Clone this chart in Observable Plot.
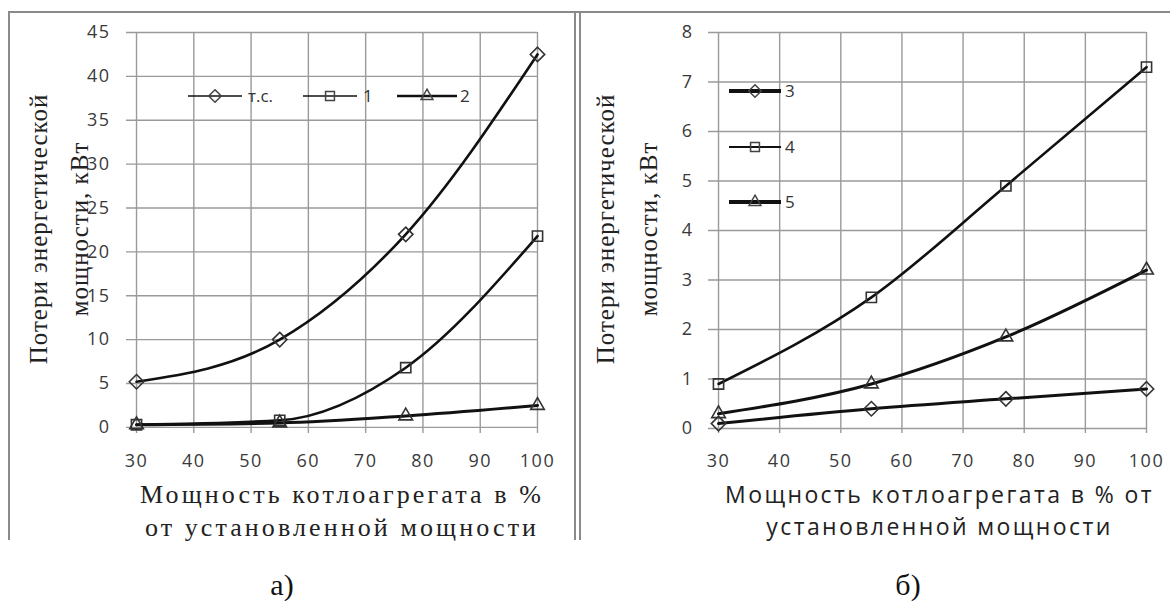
<!DOCTYPE html>
<html><head><meta charset="utf-8">
<script src="https://cdn.jsdelivr.net/npm/d3@7"></script>
<script src="https://cdn.jsdelivr.net/npm/@observablehq/plot@0.6"></script>
<style>
body{margin:0;background:#fff;}
#wrap{position:relative;width:1170px;height:602px;overflow:hidden;background:#fff;}
.panel{position:absolute;top:0;}
.frame{position:absolute;background:#8a8a8a;}
.cap{position:absolute;font-family:"Liberation Serif",serif;font-size:30px;color:#111;transform:translate(-50%,-50%);line-height:1;}
#legend{position:absolute;left:0;top:0;}
</style></head><body><div id="wrap"></div>
<script>
// ---- data ----
const loadPct = [30, 55, 77, 100];
const seriesA = ["т.с.", "1", "2"];
const tsA = [5.2, 10, 22, 42.5];
const s1A = [0.3, 0.8, 6.8, 21.8];
const s2A = [0.3, 0.5, 1.3, 2.5];
const seriesB = ["3", "4", "5"];
const s3B = [0.1, 0.4, 0.6, 0.8];
const s4B = [0.9, 2.65, 4.9, 7.3];
const s5B = [0.3, 0.9, 1.85, 3.2];
const xTicks = [30, 40, 50, 60, 70, 80, 90, 100];
const yTicksA = [0, 5, 10, 15, 20, 25, 30, 35, 40, 45];
const yTicksB = [0, 1, 2, 3, 4, 5, 6, 7, 8];
const xTitleA = "Мощность котлоагрегата в %\nот установленной мощности";
const xTitleB = "Мощность котлоагрегата в % от\nустановленной мощности";
const yTitle = "Потери энергетической\nмощности, кВт";
const captions = ["а)", "б)"];

const symbols = ["diamond2", "square2", "triangle2"];
const rows = (names, vals) => names.flatMap((n, i) => loadPct.map((x, j) => ({series: n, x, y: vals[i][j]})));
const rowsA = rows(seriesA, [tsA, s1A, s2A]);
const rowsB = rows(seriesB, [s3B, s4B, s5B]);

const wrap = document.getElementById("wrap");
const tickFont = {fontFamily: "'Open Sans', sans-serif", fontSize: 18, fill: "#3a3a3a"};
const gridStyle = {stroke: "#9a9a9a", strokeOpacity: 1, strokeWidth: 1.4};

function panel(opt) {
  const marks = [
    Plot.gridY(opt.yTicks, gridStyle),
    Plot.gridX(xTicks, gridStyle),
    Plot.axisY(opt.yTicks, {tickSize: 0, tickPadding: opt.yPad, label: null, tickFormat: d => String(d), ...tickFont}),
    Plot.axisX(xTicks, {tickSize: 0, tickPadding: 21, label: null, tickFormat: d => String(d), ...tickFont}),
  ];
  opt.names.forEach((n, i) => {
    const d = opt.rows.filter(r => r.series === n);
    marks.push(Plot.line(d, {x: "x", y: "y", curve: "monotone-x", stroke: "#111", strokeWidth: opt.widths[i]}));
    marks.push(Plot.dot(d, {x: "x", y: "y", symbol: symbols[i], r: 6.5, stroke: "#333", strokeWidth: 1.6, fill: "none"}));
  });
  marks.push(Plot.text([opt.yTitle], {frameAnchor: "left", textAnchor: "middle", lineAnchor: "middle", rotate: -90,
    dx: opt.yTitleDx, dy: -4, fontFamily: "'Liberation Serif', serif", fontSize: 25, lineHeight: opt.yLine, fill: "#222"}));
  marks.push(Plot.text([opt.xTitle], {frameAnchor: "bottom", textAnchor: "middle", lineAnchor: "middle",
    dx: opt.xTitleDx, dy: 75, fontFamily: opt.xFont, fontSize: opt.xSize, lineHeight: opt.xLine, fill: "#222"}));
  const svg = Plot.plot({
    width: opt.width, height: 560,
    marginLeft: opt.ml, marginRight: opt.mr, marginTop: 32, marginBottom: 127,
    x: {domain: opt.xDomain}, y: {domain: opt.yDomain},
    style: {background: "transparent", overflow: "visible"},
    marks
  });
  svg.classList.add("panel");
  svg.style.left = opt.left + "px";
  svg.querySelectorAll("g[aria-label='x-axis tick label'] text, g[aria-label='y-axis tick label'] text")
    .forEach(t => t.style.letterSpacing = "1.5px");
  svg.querySelectorAll("g[aria-label='text'] text").forEach(t => {
    if (t.textContent.startsWith("Мощность")) t.style.letterSpacing = opt.xLS;
    else t.style.letterSpacing = "1px";
  });
  wrap.appendChild(svg);
  return svg;
}

panel({left: 0, width: 575, ml: 126, mr: 38, xDomain: [28.25, 100], yDomain: [-0.7, 45],
  yTicks: yTicksA, yPad: 16, names: seriesA, rows: rowsA, widths: [2.6, 2.6, 3],
  yTitle, yTitleDx: -72.5, yLine: 1.65,
  xTitle: xTitleA, xTitleDx: 10, xFont: "'Liberation Serif', serif", xSize: 26, xLine: 1.27, xLS: "3.1px"});
panel({left: 575, width: 595, ml: 133, mr: 24, xDomain: [28.36, 100], yDomain: [-0.1, 8],
  yTicks: yTicksB, yPad: 15, names: seriesB, rows: rowsB, widths: [3, 2.6, 3],
  yTitle, yTitleDx: -86.5, yLine: 1.72,
  xTitle: xTitleB, xTitleDx: 12, xFont: "'Open Sans', sans-serif", xSize: 23, xLine: 1.39, xLS: "2.4px"});

// frame lines
[[9, 11, 1161, 2], [8, 11, 2, 529], [574, 11, 2, 529], [579, 11, 2, 529]].forEach(([l, t, w, h]) => {
  const d = document.createElement("div");
  d.className = "frame";
  Object.assign(d.style, {left: l + "px", top: t + "px", width: w + "px", height: h + "px"});
  wrap.appendChild(d);
});

// legends (overlay)
const lg = d3.select(wrap).append("svg").attr("id", "legend").attr("width", 1170).attr("height", 602);
const symIdx = [6, 5, 3]; // diamond2, square2, triangle2 in d3.symbolsStroke
const symPath = (i, s) => d3.symbol(d3.symbolsStroke[symIdx[i]], s)();
function legendItem(x1, x2, y, label, i, w, tx) {
  const g = lg.append("g");
  g.append("line").attr("x1", x1).attr("x2", x2).attr("y1", y).attr("y2", y).attr("stroke", "#111").attr("stroke-width", w);
  g.append("path").attr("d", symPath(i, 100)).attr("transform", `translate(${(x1 + x2) / 2},${y})`)
    .attr("fill", "none").attr("stroke", "#444").attr("stroke-width", 1.5);
  g.append("text").attr("x", tx).attr("y", y).attr("dy", "0.35em").text(label)
    .attr("font-family", "'Open Sans', sans-serif").attr("font-size", 17).attr("fill", "#333");
}
legendItem(188, 242, 96, seriesA[0], 0, 1.6, 248);
legendItem(303, 357, 96, seriesA[1], 1, 1.6, 363);
legendItem(397, 457, 96, seriesA[2], 2, 2.6, 460);
legendItem(729, 781, 91, seriesB[0], 0, 4, 785);
legendItem(729, 781, 147, seriesB[1], 1, 2, 785);
legendItem(729, 781, 202, seriesB[2], 2, 4, 785);

// captions
[[282, 585], [908, 585]].forEach(([x, y], i) => {
  const c = document.createElement("div");
  c.className = "cap";
  c.style.left = x + "px"; c.style.top = y + "px";
  c.textContent = captions[i];
  wrap.appendChild(c);
});
</script></body></html>
